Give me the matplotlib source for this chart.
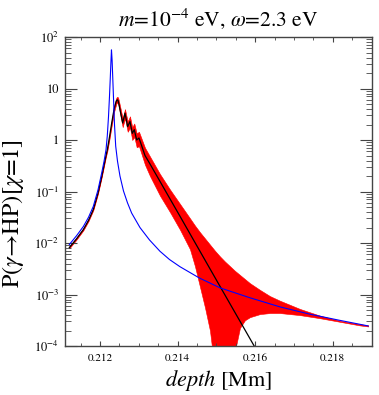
import numpy as np
import matplotlib
matplotlib.use('Agg')
import matplotlib.pyplot as plt
from matplotlib.ticker import MultipleLocator, FixedLocator, LogLocator, NullFormatter

plt.rcParams['font.family'] = 'serif'
plt.rcParams['font.serif'] = ['STIXGeneral', 'Liberation Serif', 'DejaVu Serif']
plt.rcParams['mathtext.fontset'] = 'stix'

# depth in Mm, probabilities given as log10 values
blue_x = [0.211209, 0.211394, 0.211570, 0.211704, 0.211827, 0.211948, 0.212044,
          0.212103, 0.212155, 0.212188, 0.212219, 0.212245, 0.212265, 0.212281,
          0.212296,
          0.212312, 0.212327, 0.212348, 0.212374, 0.212405, 0.212451, 0.212515,
          0.212606, 0.212709, 0.212817, 0.213031, 0.213276, 0.213546, 0.213791,
          0.214062, 0.214564, 0.215093, 0.215853, 0.216639, 0.217399, 0.218173,
          0.218915]
blue_log = [-2.03, -1.86, -1.68, -1.50, -1.29, -0.97, -0.64,
            -0.42, -0.19, 0.08, 0.45, 0.85, 1.20, 1.50,
            1.75,
            1.55, 1.25, 0.82, 0.30, -0.12, -0.41, -0.70,
            -0.99, -1.22, -1.42, -1.70, -1.94, -2.16, -2.32,
            -2.46, -2.68, -2.87, -3.06, -3.24, -3.38, -3.50,
            -3.61]

black_x = [0.211209, 0.211394, 0.211570, 0.211704, 0.211827, 0.211948, 0.212044,
           0.212103, 0.212155, 0.212188, 0.212245, 0.212302, 0.212361, 0.212405,
           0.212425, 0.212446, 0.212466, 0.212482, 0.212534, 0.212585, 0.212644,
           0.212714, 0.212773, 0.212832, 0.212884, 0.212946, 0.213005, 0.213160,
           0.213289, 0.214062, 0.215093, 0.216021]
black_log = [-2.09, -1.92, -1.74, -1.56, -1.35, -1.03, -0.71,
             -0.49, -0.30, -0.19, 0.06, 0.33, 0.59, 0.72,
             0.765, 0.78, 0.765, 0.72, 0.52, 0.33, 0.52,
             0.26, 0.36, 0.13, 0.20, 0.00, 0.04, -0.30,
             -0.465, -1.48, -2.84, -4.06]

red_x = [0.211209, 0.211394, 0.211570, 0.211704, 0.211827, 0.211948, 0.212044,
         0.212103, 0.212155, 0.212188, 0.212245, 0.212302, 0.212361, 0.212405,
         0.212425, 0.212446, 0.212466, 0.212482, 0.212534, 0.212585, 0.212644,
         0.212714, 0.212773, 0.212832, 0.212884, 0.212946, 0.213005, 0.213160,
         0.213289, 0.213546, 0.213804, 0.214062, 0.214320, 0.214448, 0.214577,
         0.214706, 0.214835, 0.214964, 0.215093, 0.215222, 0.215351, 0.215479,
         0.215608, 0.215737, 0.215866, 0.216124, 0.216381, 0.216639, 0.217155,
         0.217670, 0.218186, 0.218701, 0.218915]
red_hi_log = [-2.065, -1.895, -1.715, -1.535, -1.325, -1.005, -0.685,
              -0.46, -0.27, -0.15, 0.10, 0.38, 0.65, 0.78,
              0.825, 0.84, 0.825, 0.78, 0.60, 0.42, 0.60,
              0.36, 0.46, 0.25, 0.32, 0.13, 0.16, -0.15,
              -0.32, -0.66, -0.96, -1.24, -1.52, -1.66, -1.79,
              -1.91, -2.03, -2.15, -2.26, -2.36, -2.45, -2.54,
              -2.62, -2.70, -2.78, -2.91, -3.03, -3.12, -3.28,
              -3.41, -3.51, -3.575, -3.60]
red_lo_log = [-2.105, -1.935, -1.755, -1.575, -1.365, -1.045, -0.725,
              -0.51, -0.32, -0.22, 0.02, 0.28, 0.54, 0.66,
              0.71, 0.73, 0.71, 0.66, 0.45, 0.25, 0.42,
              0.16, 0.24, 0.00, 0.06, -0.14, -0.12, -0.48,
              -0.70, -1.08, -1.40, -1.74, -2.12, -2.45, -2.85,
              -3.25, -3.70, -4.50, -5.00, -5.00, -4.60, -4.10,
              -3.65, -3.50, -3.44, -3.38, -3.36, -3.36, -3.40,
              -3.46, -3.53, -3.60, -3.62]

xticks = [0.212, 0.214, 0.216, 0.218]
xtick_labels = ['0.212', '0.214', '0.216', '0.218']
yticks = [1e-4, 1e-3, 1e-2, 1e-1, 1, 10, 100]
ytick_labels = [r'$10^{-4}$', r'$10^{-3}$', r'$10^{-2}$', r'$10^{-1}$', '1', '10', r'$10^{2}$']

fig = plt.figure(figsize=(3.79, 3.95), dpi=100)
ax = fig.add_axes([0.1707, 0.124, 0.8116, 0.7823])

ax.fill_between(red_x, 10.0 ** np.array(red_lo_log), 10.0 ** np.array(red_hi_log),
                color='red', lw=0.4, zorder=1)
ax.plot(black_x, 10.0 ** np.array(black_log), color='black', lw=0.9, zorder=2)
ax.plot(blue_x, 10.0 ** np.array(blue_log), color='blue', lw=0.8, zorder=3)

ax.set_yscale('log')
ax.set_xlim(0.21109, 0.21902)
ax.set_ylim(1e-4, 1e2)

ax.xaxis.set_major_locator(FixedLocator(xticks))
ax.set_xticklabels(xtick_labels)
ax.xaxis.set_minor_locator(MultipleLocator(0.0005))
ax.yaxis.set_major_locator(FixedLocator(yticks))
ax.set_yticklabels(ytick_labels)
ax.yaxis.set_minor_locator(LogLocator(base=10, subs=np.arange(2, 10), numticks=20))
ax.yaxis.set_minor_formatter(NullFormatter())

ax.tick_params(which='both', direction='in', top=True, right=True, color='#444444')
ax.tick_params(axis='y', which='major', length=8.5, width=0.8, pad=4, labelsize=9)
ax.tick_params(axis='y', which='minor', length=4.3, width=0.6)
ax.tick_params(axis='x', which='major', length=3.5, width=0.8, pad=5, labelsize=8)
ax.tick_params(axis='x', which='minor', length=2.2, width=0.6)
for s in ax.spines.values():
    s.set_color('#444444')
    s.set_linewidth(1.0)

ax.set_title(r'$m$=10$^{-4}$ eV, $\omega$=2.3 eV', fontsize=15.5, pad=8)
ax.set_xlabel(r'$depth$ [Mm]', fontsize=16, labelpad=4)
ax.set_ylabel(r'P($\gamma$→HP)[$\chi$=1]', fontsize=17.5)
ax.yaxis.set_label_coords(-0.125, 0.43)

fig.savefig('out.png', dpi=100)
